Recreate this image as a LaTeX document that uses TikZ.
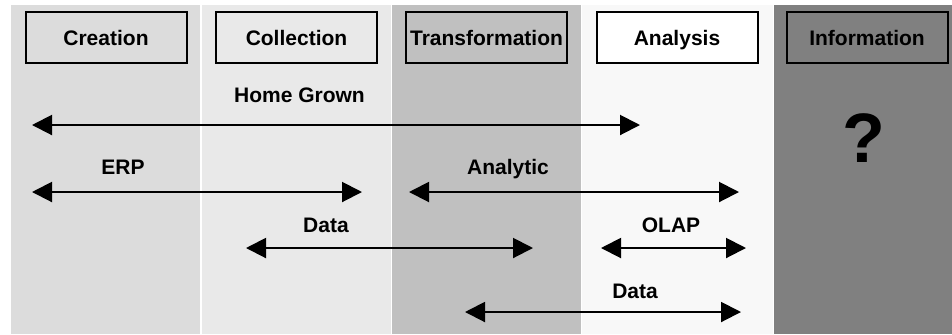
\documentclass[tikz,border=0pt]{standalone}
\usepackage{fontspec}
\setmainfont{Liberation Sans}
\usetikzlibrary{arrows.meta}

\definecolor{creationbg}{HTML}{DCDCDC}
\definecolor{collectionbg}{HTML}{E9E9E9}
\definecolor{transformbg}{HTML}{C0C0C0}
\definecolor{analysisbg}{HTML}{F8F8F8}
\definecolor{infobg}{HTML}{808080}

\begin{document}
\begin{tikzpicture}[
  x=0.5pt,
  y=-0.5pt,
  font=\fontsize{10.5}{12}\selectfont\bfseries,
  stage/.style={draw, line width=1pt, minimum width=80.5pt, minimum height=25.5pt, inner sep=0pt, text height=7.5pt, text depth=0pt, align=center},
  tag/.style={inner sep=0pt, anchor=base},
  spanarrow/.style={{Triangle[length=10pt,width=10pt]}-{Triangle[length=10pt,width=10pt]}, line width=1pt}
]
  \fill[white] (0,0) rectangle (952,334);
  \useasboundingbox (0,0) rectangle (952,334);

  % columns
  \fill[creationbg] (11,5) rectangle (200,334);
  \fill[collectionbg] (202,5) rectangle (391,334);
  \fill[transformbg] (392,5) rectangle (581,334);
  \fill[analysisbg] (582,5) rectangle (773,334);
  \fill[infobg] (774,5) rectangle (952,334);

  % stage headers
  \node[stage, fill=creationbg] (creation) at (106,37.5) {Creation};
  \node[stage, fill=collectionbg] (collection) at (296.5,37.5) {Collection};
  \node[stage, fill=transformbg] (transformation) at (486.5,37.5) {Transformation};
  \node[stage, fill=white] (analysis) at (677,37.5) {Analysis};
  \node[stage, fill=infobg] (information) at (867,37.5) {Information};

  \node[tag, font=\fontsize{35}{40}\selectfont\bfseries] (unknown) at (863.5,162) {?};

  % labels
  \node[tag] (homegrown) at (299.5,102) {Home Grown};
  \node[tag] (erp) at (123,174) {ERP};
  \node[tag] (analytic) at (508,174) {Analytic};
  \node[tag] (data1) at (326,232) {Data};
  \node[tag] (olap) at (671,232) {OLAP};
  \node[tag] (data2) at (635,298) {Data};

  % arrow ends
  \coordinate (homegrown-l) at (32,125);
  \coordinate (homegrown-r) at (640,125);
  \coordinate (erp-l) at (32,192);
  \coordinate (erp-r) at (362,192);
  \coordinate (analytic-l) at (409,192);
  \coordinate (analytic-r) at (739,192);
  \coordinate (data1-l) at (246,248);
  \coordinate (data1-r) at (533,248);
  \coordinate (olap-l) at (601,248);
  \coordinate (olap-r) at (746,248);
  \coordinate (data2-l) at (465,312);
  \coordinate (data2-r) at (741,312);

  \draw[spanarrow] (homegrown-l) -- (homegrown-r);
  \draw[spanarrow] (erp-l) -- (erp-r);
  \draw[spanarrow] (analytic-l) -- (analytic-r);
  \draw[spanarrow] (data1-l) -- (data1-r);
  \draw[spanarrow] (olap-l) -- (olap-r);
  \draw[spanarrow] (data2-l) -- (data2-r);
\end{tikzpicture}
\end{document}
